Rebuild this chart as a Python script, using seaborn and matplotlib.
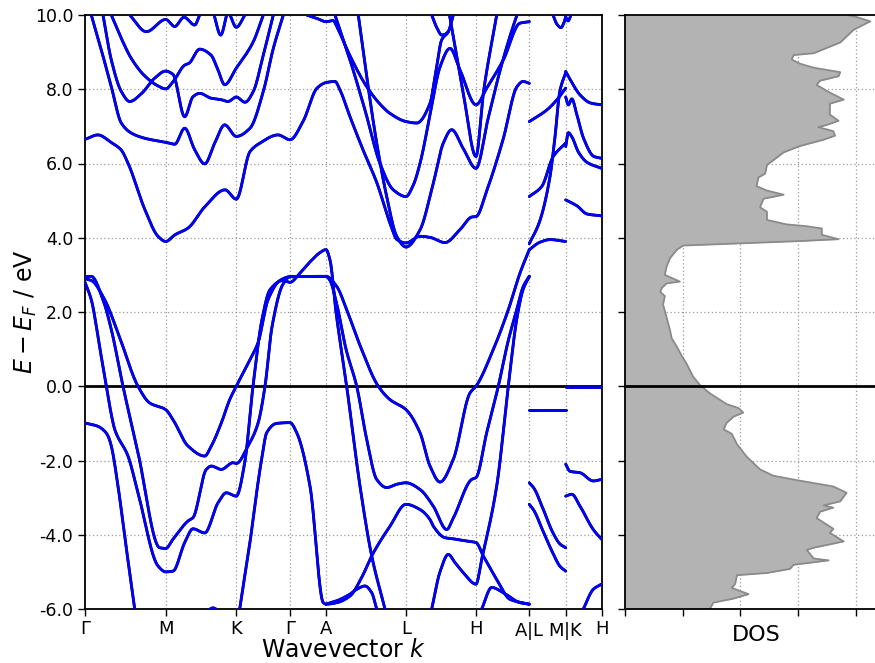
import numpy as np
import pandas as pd
import matplotlib
matplotlib.use("Agg")
import matplotlib.pyplot as plt
import seaborn as sns
from matplotlib.ticker import FormatStrFormatter

# ---------------- high-symmetry path ----------------
kpoint_labels = ["Γ", "M", "K", "Γ", "A", "L", "H", "A$|$L", "M$|$K", "H"]
kpoint_pos = [0.0, 0.807, 1.513, 2.05, 2.41, 3.21, 3.91, 4.443, 4.807, 5.165]
energy_ticks = [-6, -4, -2, 0, 2, 4, 6, 8, 10]

# ---------------- band data (k, E - E_F in eV) ----------------
# conduction bands
cb_f_k = [0.0, 0.13, 0.26, 0.36, 0.43, 0.60, 0.73, 0.807, 0.90, 1.03, 1.20, 1.40, 1.513, 1.65, 1.75, 1.93, 2.05, 2.18, 2.32, 2.41, 2.50, 2.55, 2.65, 2.78, 2.92, 3.05, 3.12, 3.21, 3.35, 3.45, 3.60, 3.75, 3.87, 3.91, 4.02, 4.18, 4.32, 4.38, 4.443]
cb_f_E = [6.65, 6.77, 6.57, 6.37, 6.01, 4.75, 4.04, 3.90, 4.08, 4.26, 4.84, 5.29, 5.04, 6.32, 6.55, 6.77, 6.64, 7.13, 8.03, 8.18, 8.21, 7.98, 7.26, 6.37, 5.47, 4.39, 3.95, 3.86, 4.04, 4.01, 3.87, 4.22, 4.56, 4.57, 5.29, 6.64, 8.07, 8.21, 8.16]

cb_a_k = [0.063, 0.163, 0.263, 0.363, 0.463, 0.597, 0.807, 0.897, 0.997, 1.097, 1.197, 1.297, 1.397, 1.513, 1.65, 1.783, 1.883, 1.983]
cb_a_E = [10.0, 9.06, 8.07, 7.09, 6.82, 6.68, 6.57, 6.52, 6.95, 6.37, 5.99, 6.55, 7.04, 6.73, 6.95, 7.94, 9.1, 10.0]

cb_b_k = [0.18, 0.263, 0.363, 0.447, 0.567, 0.697, 0.807, 0.88, 0.997, 1.08, 1.147, 1.26, 1.36, 1.43, 1.513, 1.60, 1.683, 1.783, 1.883]
cb_b_E = [10.0, 8.79, 7.94, 7.67, 7.89, 8.30, 8.49, 8.40, 7.26, 7.80, 7.89, 7.76, 7.72, 7.67, 7.79, 7.65, 7.94, 8.92, 10.0]

cb_c_k = [0.263, 0.363, 0.463, 0.597, 0.73, 0.807, 0.88, 0.997, 1.04, 1.147, 1.26, 1.33, 1.397, 1.513, 1.617, 1.683, 1.783]
cb_c_E = [10.0, 9.37, 8.83, 8.36, 8.09, 8.01, 8.20, 8.65, 8.70, 9.08, 8.92, 8.52, 8.12, 8.57, 8.97, 9.28, 10.0]

cb_d_k = [0.447, 0.613, 0.807, 0.897, 0.99, 1.097, 1.147]
cb_d_E = [10.0, 9.55, 9.88, 9.69, 9.94, 9.73, 10.0]

cb_e1_k = [1.29, 1.357, 1.417]
cb_e1_E = [10.0, 9.46, 10.0]
cb_e2_k = [1.45, 1.513, 1.60]
cb_e2_E = [10.0, 9.67, 10.0]

cb_g_k = [2.217, 2.317, 2.41, 2.48, 2.533, 2.65, 2.817, 2.95, 3.05, 3.21, 3.317, 3.45, 3.51, 3.567, 3.633, 3.683]
cb_g_E = [10.0, 9.91, 9.82, 9.85, 9.6, 8.9, 8.07, 7.6, 7.35, 7.13, 7.09, 7.62, 8.5, 9.33, 9.55, 10.0]

cb_u_k = [3.467, 3.52, 3.567, 3.60, 3.633]
cb_u_E = [10.0, 9.65, 9.46, 9.48, 9.55]

cb_h_k = [2.50, 2.65, 2.80, 2.95, 3.083, 3.21, 3.28, 3.35, 3.45, 3.55, 3.65, 3.75, 3.91, 4.017, 4.183, 4.35, 4.443]
cb_h_E = [10.0, 8.79, 7.44, 6.0, 5.29, 5.11, 5.4, 6.0, 7.3, 8.6, 9.1, 8.52, 7.58, 8.03, 8.79, 9.78, 9.82]

cb_i_k = [2.733, 2.817, 2.917, 3.017, 3.117, 3.21, 3.35, 3.483, 3.583, 3.667, 3.783, 3.91, 4.03, 4.15, 4.27, 4.32]
cb_i_E = [10.0, 8.34, 6.55, 5.11, 4.04, 3.75, 4.21, 5.47, 6.55, 6.91, 6.4, 5.87, 7.2, 8.5, 9.6, 10.0]

cb_v_k = [3.645, 3.683, 3.783, 3.91, 3.983, 4.117]
cb_v_E = [10.0, 9.42, 7.89, 6.19, 7.89, 10.0]

# L-M segment
lm_1_k = [4.443, 4.62, 4.807]
lm_1_E = [-0.63, -0.63, -0.63]
lm_2_k = [4.443, 4.49, 4.58, 4.68, 4.75, 4.807]
lm_2_E = [-2.6, -2.75, -3.3, -3.95, -4.25, -4.35]
lm_3_k = [4.443, 4.49, 4.58, 4.68, 4.75, 4.807]
lm_3_E = [-3.18, -3.35, -3.9, -4.5, -4.85, -4.98]
lm_4_k = [4.443, 4.617, 4.717, 4.807]
lm_4_E = [7.13, 7.44, 7.71, 8.03]
lm_5_k = [4.443, 4.567, 4.683, 4.807]
lm_5_E = [5.11, 5.38, 6.19, 6.55]
lm_6_k = [4.443, 4.545, 4.647, 4.698, 4.749, 4.807]
lm_6_E = [3.84, 4.43, 5.6, 6.67, 7.95, 8.45]
lm_7_k = [4.443, 4.55, 4.65, 4.807]
lm_7_E = [3.68, 3.88, 3.95, 3.9]
lm_8_k = [4.68, 4.72, 4.76, 4.79, 4.807]
lm_8_E = [10.0, 9.75, 9.66, 9.8, 9.95]

# K-H segment
kh_1_k = [4.807, 4.85, 4.953, 5.055, 5.165]
kh_1_E = [8.48, 8.27, 7.84, 7.63, 7.58]
kh_2_k = [4.807, 4.834, 4.868, 4.919, 4.987, 5.089, 5.165]
kh_2_E = [7.79, 7.58, 7.74, 7.31, 6.67, 6.19, 6.14]
kh_3_k = [4.807, 4.834, 4.868, 4.936, 5.021, 5.165]
kh_3_E = [6.46, 6.83, 6.72, 6.3, 6.03, 5.87]
kh_4_k = [4.807, 4.919, 5.021, 5.165]
kh_4_E = [5.02, 4.86, 4.64, 4.59]
kh_5_k = [4.807, 4.98, 5.165]
kh_5_E = [-0.03, -0.03, -0.03]
kh_6_k = [4.807, 4.85, 4.95, 5.083, 5.165]
kh_6_E = [-2.1, -2.29, -2.33, -2.55, -2.51]
kh_7_k = [4.807, 4.868, 4.95, 5.083, 5.165]
kh_7_E = [-2.96, -2.91, -3.23, -3.86, -4.12]
kh_8_k = [4.983, 5.083, 5.165]
kh_8_E = [-6.0, -5.47, -5.33]
kh_9_k = [4.807, 4.83, 4.86]
kh_9_E = [9.95, 9.84, 10.0]

# valence bands
vb_1_k = [0.0, 0.063, 0.15, 0.213, 0.263, 0.297, 0.43, 0.53, 0.73, 0.807, 0.88, 0.997, 1.08, 1.197, 1.33, 1.413, 1.513, 1.597, 1.68, 1.77, 1.85, 1.98, 2.05, 2.15, 2.25, 2.35, 2.41, 2.45, 2.51, 2.617, 2.75, 2.867, 3.0]
vb_1_E = [2.80, 2.33, 1.0, 0.0, -0.76, -1.16, -1.88, -2.87, -4.84, -5.0, -4.98, -4.21, -3.84, -3.95, -3.14, -2.87, -2.96, -2.06, 0.0, 1.8, 2.6, 2.85, 2.80, 3.05, 3.35, 3.60, 3.68, 3.4, 2.0, 0.0, -2.69, -4.57, -6.0]

vb_2_k = [0.0, 0.063, 0.18, 0.263, 0.38, 0.53, 0.747, 0.807, 0.88, 1.03, 1.08, 1.213, 1.263, 1.363, 1.48, 1.513, 1.63, 1.73, 1.80, 1.87, 1.98, 2.05, 2.41, 2.45, 2.51, 2.61, 2.717, 2.817, 2.917, 3.017, 3.117, 3.21, 3.35, 3.483, 3.617, 3.683, 3.867, 3.91, 4.017, 4.133, 4.23, 4.317, 4.383, 4.443]
vb_2_E = [2.95, 2.96, 2.33, 1.53, 0.0, -1.79, -4.35, -4.37, -4.12, -3.63, -3.54, -2.24, -2.15, -2.24, -2.06, -2.08, -1.61, -1.0, 0.0, 1.6, 2.75, 2.95, 2.96, 2.85, 2.3, 1.0, 0.0, -1.43, -2.51, -2.73, -2.64, -2.60, -2.78, -3.23, -3.86, -3.55, -2.51, -2.46, -1.25, 0.0, 1.2, 2.06, 2.69, 2.96]

vb_3_k = [0.0, 0.063, 0.197, 0.33, 0.53, 0.647, 0.807, 0.88, 1.03, 1.197, 1.263, 1.363, 1.447, 1.513, 1.65, 1.73, 1.83, 1.95, 2.05, 2.41, 2.517, 2.617, 2.75, 2.933, 3.05, 3.21, 3.35, 3.45, 3.55, 3.683, 3.85, 3.91, 4.083, 4.233, 4.35, 4.443]
vb_3_E = [2.90, 2.85, 2.33, 1.44, 0.0, -0.45, -0.63, -0.90, -1.61, -1.88, -1.61, -0.99, -0.36, 0.0, 0.72, 1.17, 2.33, 2.85, 2.95, 2.96, 2.69, 2.06, 1.1, 0.0, -0.36, -0.63, -1.25, -2.15, -2.58, -1.97, -0.18, 0.0, 0.99, 2.06, 3.05, 3.68]

vb_4_k = [0.0, 0.13, 0.20, 0.23, 0.263, 0.33, 0.41, 0.497]
vb_4_E = [-0.99, -1.08, -1.22, -1.34, -1.61, -2.69, -4.3, -6.0]

vb_5_k = [1.547, 1.65, 1.73, 1.77, 1.817, 1.917, 2.05, 2.117, 2.25, 2.383, 2.41, 2.517, 2.65, 2.767, 2.867, 3.05, 3.21, 3.35, 3.45, 3.483, 3.60, 3.683, 3.817, 3.91, 3.983, 4.117, 4.25, 4.443]
vb_5_E = [-6.0, -4.2, -2.6, -1.9, -1.25, -1.0, -0.98, -1.25, -2.69, -5.83, -5.87, -5.83, -5.65, -5.15, -4.57, -3.77, -3.18, -3.32, -3.59, -3.77, -4.08, -4.11, -4.17, -4.21, -4.57, -5.2, -5.74, -5.87]

vb_6_k = [2.41, 2.517, 2.65, 2.717, 2.80, 2.867, 2.917]
vb_6_E = [-5.87, -5.78, -5.6, -5.47, -5.38, -5.56, -6.0]

vb_7_k = [1.25, 1.28, 1.31]
vb_7_E = [-6.0, -5.97, -6.0]

vb_8_k = [3.467, 3.55, 3.633, 3.70, 3.783, 3.91, 3.967, 4.117, 4.233, 4.317, 4.38, 4.443]
vb_8_E = [-6.0, -5.0, -4.53, -4.75, -5.02, -5.33, -4.66, -2.69, 0.0, 1.8, 2.6, 2.96]

vb_9_k = [3.967, 4.067, 4.183, 4.35, 4.443]
vb_9_E = [-6.0, -5.42, -5.56, -5.83, -5.87]

# ---------------- density of states ----------------
dos_energy = [10.0, 9.94, 9.83, 9.6, 9.26, 8.97, 8.92, 8.8, 8.69, 8.58, 8.46, 8.35, 8.23, 8.12, 7.95, 7.72, 7.61, 7.32, 7.15, 7.04, 6.98, 6.87, 6.75, 6.64, 6.47, 6.3, 5.96, 5.73, 5.62, 5.39, 5.27, 5.16, 5.05, 4.82, 4.7, 4.48, 4.36, 4.31, 4.25, 4.08, 3.96, 3.91, 3.79, 3.68, 3.45, 3.22, 3.0, 2.82, 2.77, 2.65, 2.54, 2.43, 2.2, 1.86, 1.51, 1.29, 1.06, 0.83, 0.6, 0.26, 0.03, -0.19, -0.48, -0.59, -0.71, -0.82, -0.99, -1.16, -1.28, -1.56, -1.9, -2.24, -2.41, -2.53, -2.7, -2.87, -3.1, -3.21, -3.27, -3.38, -3.55, -3.78, -3.84, -3.95, -4.18, -4.35, -4.41, -4.64, -4.69, -4.81, -4.92, -5.03, -5.09, -5.32, -5.43, -5.6, -5.72, -5.83, -6.0]
dos_value = [3.85, 4.02, 4.25, 3.96, 3.73, 3.27, 2.92, 2.89, 3.03, 3.27, 3.73, 3.70, 3.38, 3.32, 3.50, 3.79, 3.55, 3.55, 3.70, 3.50, 3.35, 3.61, 3.64, 3.44, 3.03, 2.75, 2.46, 2.43, 2.31, 2.28, 2.46, 2.75, 2.40, 2.34, 2.46, 2.46, 2.80, 3.15, 3.41, 3.41, 3.70, 3.03, 1.01, 0.90, 0.78, 0.72, 0.69, 0.95, 0.72, 0.64, 0.61, 0.69, 0.66, 0.72, 0.78, 0.81, 0.90, 0.98, 1.07, 1.18, 1.30, 1.47, 1.76, 1.97, 2.05, 1.88, 1.76, 1.71, 1.85, 1.94, 2.11, 2.34, 2.57, 2.98, 3.61, 3.84, 3.73, 3.44, 3.61, 3.38, 3.32, 3.55, 3.61, 3.55, 3.79, 3.27, 3.15, 3.27, 3.53, 2.92, 2.86, 2.46, 1.94, 1.91, 1.85, 2.14, 1.88, 1.53, 1.47]
dos_ticks = [0, 1, 2, 3, 4]

bands = [
    (cb_f_k, cb_f_E), (cb_a_k, cb_a_E), (cb_b_k, cb_b_E), (cb_c_k, cb_c_E),
    (cb_d_k, cb_d_E), (cb_e1_k, cb_e1_E), (cb_e2_k, cb_e2_E), (cb_g_k, cb_g_E),
    (cb_u_k, cb_u_E), (cb_h_k, cb_h_E), (cb_i_k, cb_i_E), (cb_v_k, cb_v_E),
    (lm_1_k, lm_1_E), (lm_2_k, lm_2_E), (lm_3_k, lm_3_E), (lm_4_k, lm_4_E),
    (lm_5_k, lm_5_E), (lm_6_k, lm_6_E), (lm_7_k, lm_7_E), (lm_8_k, lm_8_E),
    (kh_1_k, kh_1_E), (kh_2_k, kh_2_E), (kh_3_k, kh_3_E), (kh_4_k, kh_4_E),
    (kh_5_k, kh_5_E), (kh_6_k, kh_6_E), (kh_7_k, kh_7_E), (kh_8_k, kh_8_E),
    (kh_9_k, kh_9_E),
    (vb_1_k, vb_1_E), (vb_2_k, vb_2_E), (vb_3_k, vb_3_E), (vb_4_k, vb_4_E),
    (vb_5_k, vb_5_E), (vb_6_k, vb_6_E), (vb_7_k, vb_7_E), (vb_8_k, vb_8_E),
    (vb_9_k, vb_9_E),
]


def pchip(x, y, xn):
    """Monotone cubic (shape-preserving) curve through the read points."""
    x = np.asarray(x, float)
    y = np.asarray(y, float)
    h = np.diff(x)
    d = np.diff(y) / h
    n = len(x)
    m = np.zeros(n)
    if n == 2:
        m[:] = d[0]
    else:
        for i in range(1, n - 1):
            if d[i - 1] * d[i] <= 0:
                m[i] = 0.0
            else:
                w1 = 2 * h[i] + h[i - 1]
                w2 = h[i] + 2 * h[i - 1]
                m[i] = (w1 + w2) / (w1 / d[i - 1] + w2 / d[i])
        m[0] = d[0]
        m[-1] = d[-1]
    idx = np.clip(np.searchsorted(x, xn, side="right") - 1, 0, n - 2)
    t = (xn - x[idx]) / h[idx]
    h00 = 2 * t**3 - 3 * t**2 + 1
    h10 = t**3 - 2 * t**2 + t
    h01 = -2 * t**3 + 3 * t**2
    h11 = t**3 - t**2
    return h00 * y[idx] + h10 * h[idx] * m[idx] + h01 * y[idx + 1] + h11 * h[idx] * m[idx + 1]


frames = []
for i, (kk, ee) in enumerate(bands):
    assert len(kk) == len(ee)
    npts = max(20, int((kk[-1] - kk[0]) * 300))
    kd = np.linspace(kk[0], kk[-1], npts)
    frames.append(pd.DataFrame({"k": kd, "E": pchip(kk, ee, kd), "band": i}))
band_df = pd.concat(frames, ignore_index=True)

assert len(dos_energy) == len(dos_value)
dos_df = pd.DataFrame({"E": dos_energy, "DOS": dos_value})

# ---------------- figure ----------------
sns.set_style("ticks")
plt.rcParams["font.family"] = ["DejaVu Sans"]
plt.rcParams["axes.unicode_minus"] = False
plt.rcParams["mathtext.fontset"] = "dejavusans"
for key in ["text.color", "axes.labelcolor", "xtick.color", "ytick.color", "axes.edgecolor"]:
    plt.rcParams[key] = "black"

fig = plt.figure(figsize=(8.75, 6.63), dpi=100)
W, H = 875.0, 663.0
ax = fig.add_axes([85 / W, 54 / H, 516.5 / W, 594 / H])
axd = fig.add_axes([625 / W, 54 / H, 262 / W, 594 / H])

grid_kw = dict(color="#9a9a9a", linestyle=(0, (1, 2)), linewidth=0.9)

# band structure
ax.set_xlim(kpoint_pos[0], kpoint_pos[-1])
ax.set_ylim(-6, 10)
for kp in kpoint_pos[1:-1]:
    ax.axvline(kp, zorder=0, **grid_kw)
for ev in energy_ticks:
    if ev != 0:
        ax.axhline(ev, zorder=0, **grid_kw)
ax.axhline(0, color="black", lw=2.0, zorder=1)

sns.lineplot(data=band_df, x="k", y="E", units="band", estimator=None, sort=False,
             color="black", lw=2.05, ax=ax, zorder=2, legend=False)
sns.lineplot(data=band_df, x="k", y="E", units="band", estimator=None, sort=False,
             color="#0000ff", lw=1.9, ax=ax, zorder=3, legend=False)

ax.set_xticks(kpoint_pos)
ax.set_xticklabels(kpoint_labels, fontsize=13)
ax.set_yticks(energy_ticks)
ax.yaxis.set_major_formatter(FormatStrFormatter("%.1f"))
ax.tick_params(axis="y", labelsize=12.5, length=5, width=1.0, direction="out")
ax.tick_params(axis="x", length=5, width=1.0, direction="out", pad=3)
ax.set_xlabel("Wavevector $k$", fontsize=17, labelpad=-3)
ax.set_ylabel("$E - E_F$ / eV", fontsize=17, labelpad=-3)
for s in ax.spines.values():
    s.set_linewidth(1.3)
    s.set_color("black")

# DOS panel
axd.set_ylim(-6, 10)
axd.set_xlim(0, 4.54)
for xv in dos_ticks[1:]:
    axd.axvline(xv, zorder=0, **grid_kw)
for ev in energy_ticks:
    if ev != 0:
        axd.axhline(ev, zorder=0, **grid_kw)
axd.fill_betweenx(dos_df["E"], 0, dos_df["DOS"], color="#b3b3b3", zorder=1, linewidth=0)
sns.lineplot(data=dos_df, x="DOS", y="E", orient="y", sort=False, estimator=None,
             color="#8a8a8a", lw=1.3, ax=axd, zorder=2)
axd.axhline(0, color="black", lw=2.0, zorder=3)
axd.set_xticks(dos_ticks)
axd.set_xticklabels([])
axd.set_yticks(energy_ticks)
axd.set_yticklabels([])
axd.tick_params(length=5, width=1.0, direction="out")
axd.set_xlabel("DOS", fontsize=16, labelpad=3)
axd.set_ylabel("")
for s in axd.spines.values():
    s.set_linewidth(1.3)
    s.set_color("black")

fig.savefig("out.png", dpi=100)
